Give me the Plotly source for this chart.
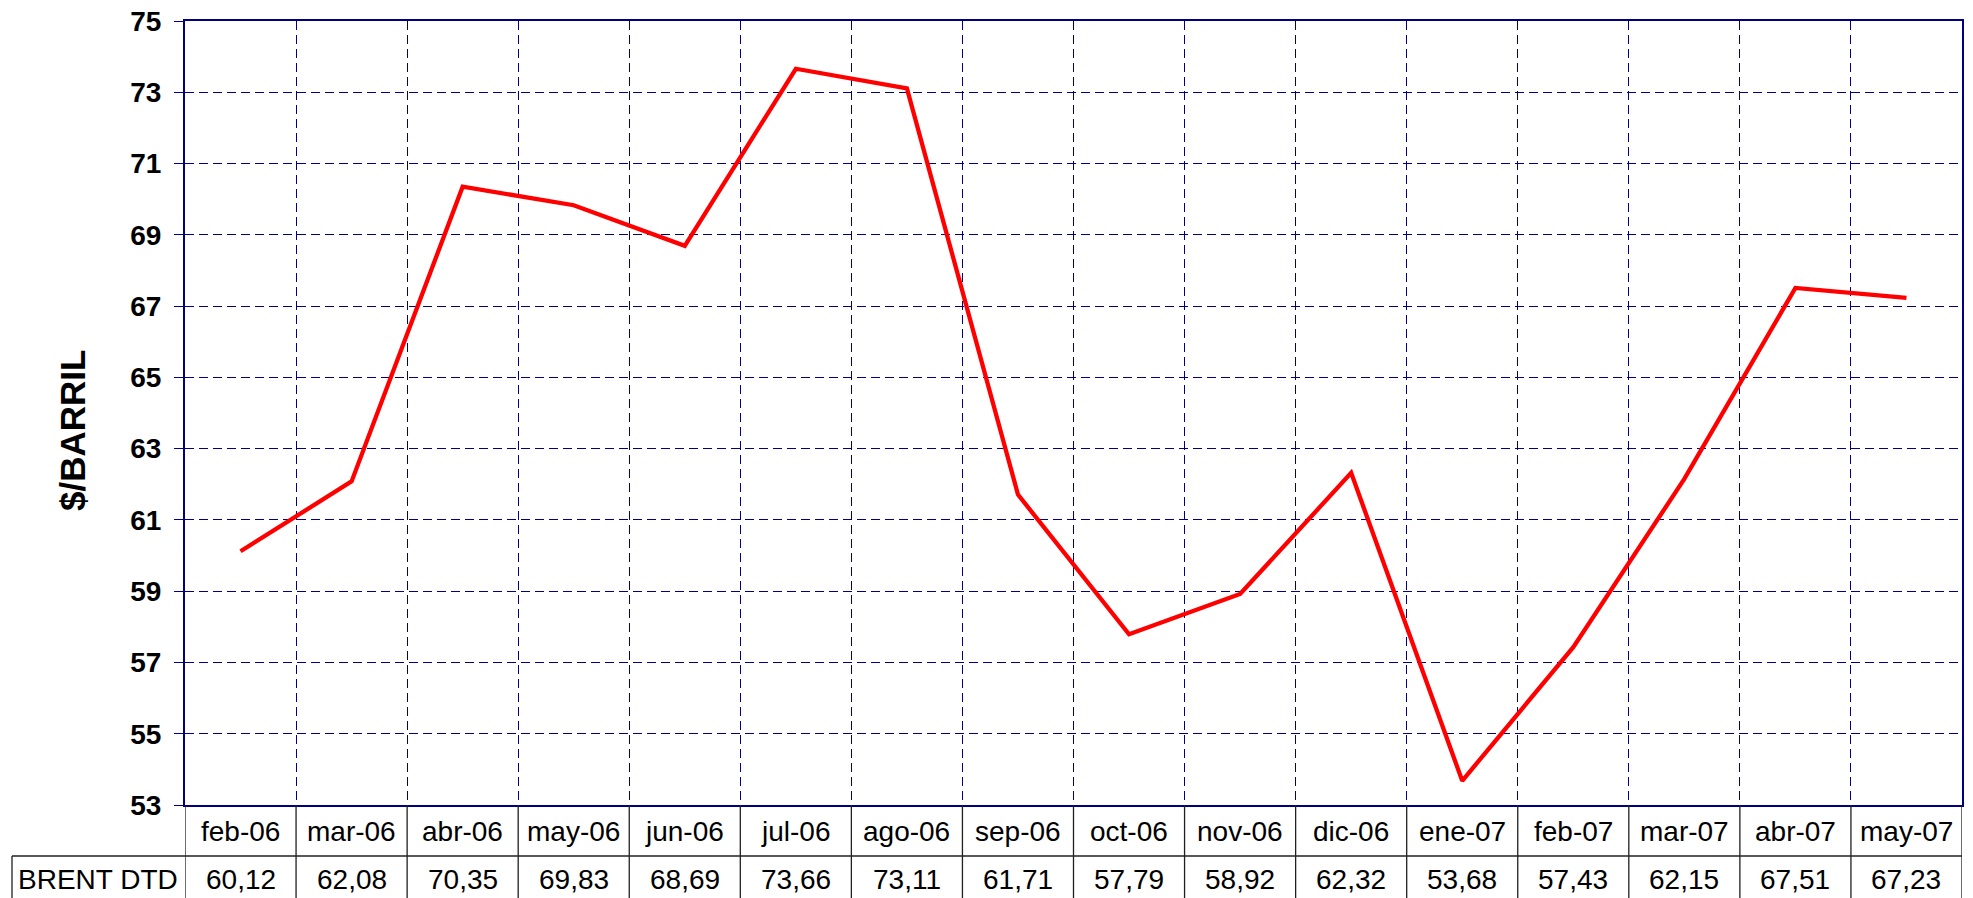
import plotly.graph_objects as go

months = ["feb-06", "mar-06", "abr-06", "may-06", "jun-06", "jul-06", "ago-06", "sep-06",
          "oct-06", "nov-06", "dic-06", "ene-07", "feb-07", "mar-07", "abr-07", "may-07"]
brent = [60.12, 62.08, 70.35, 69.83, 68.69, 73.66, 73.11, 61.71,
         57.79, 58.92, 62.32, 53.68, 57.43, 62.15, 67.51, 67.23]
series_name = "BRENT DTD"
y_ticks = [53, 55, 57, 59, 61, 63, 65, 67, 69, 71, 73, 75]

# body margin removed via post_script, so the figure fills the window
W, H = 1973, 898
PL, PR, PT, PB = 185, 1962, 21, 805  # plot area in window pixels
ML, MR, MT, MB = PL, W - PR, PT, H - PB
PW, PH = PR - PL, PB - PT

def py(pix):  # pixel y -> paper y
    return (PB - pix) / PH

def px(pix):  # pixel x -> paper x
    return (pix - PL) / PW

n = len(months)
xs = list(range(n))
boundaries = [i + 0.5 for i in range(n - 1)]

fig = go.Figure()
fig.add_trace(go.Scatter(x=xs, y=brent, mode="lines",
                         line=dict(color="#ff0000", width=4.3), name=series_name,
                         showlegend=False, hoverinfo="skip"))

navy = "#000080"
fig.update_xaxes(range=[-0.5, n - 0.5], tickvals=boundaries, showticklabels=False,
                 ticks="", showgrid=True, gridcolor=navy, gridwidth=1, griddash="9px,5px",
                 zeroline=False, showline=True, linecolor=navy, linewidth=2, mirror=True)
fig.update_yaxes(range=[y_ticks[0], y_ticks[-1]], tickvals=y_ticks,
                 ticks="outside", ticklen=9, tickcolor=navy, tickwidth=1,
                 ticklabeloverflow="allow", ticklabelstandoff=7,
                 tickfont=dict(family="Liberation Sans, Arial", size=28, color="black", weight="bold"),
                 showgrid=True, gridcolor=navy, gridwidth=1, griddash="9px,5px",
                 zeroline=False, showline=True, linecolor=navy, linewidth=2, mirror=True)

shapes = []
annotations = []
line_col = "#202020"
row1_top, row_div, row2_bot = PB, 856, H + 4
for b in [-0.5] + boundaries + [n - 0.5]:
    shapes.append(dict(type="line", xref="x", yref="paper", x0=b, x1=b,
                       y0=py(row1_top), y1=py(row2_bot), line=dict(color=line_col, width=1.3)))
shapes.append(dict(type="line", xref="paper", yref="paper", x0=px(12), x1=1,
                   y0=py(row_div), y1=py(row_div), line=dict(color=line_col, width=1.3)))
shapes.append(dict(type="line", xref="paper", yref="paper", x0=px(12), x1=px(12),
                   y0=py(row_div), y1=py(row2_bot), line=dict(color=line_col, width=1.3)))

tfont = dict(family="Liberation Sans, Arial", size=28, color="black")
for i, (m, v) in enumerate(zip(months, brent)):
    annotations.append(dict(x=i, y=py(831), xref="x", yref="paper", text=m,
                            showarrow=False, font=tfont, xanchor="center", yanchor="middle"))
    annotations.append(dict(x=i, y=py(879), xref="x", yref="paper",
                            text=f"{v:.2f}".replace(".", ","),
                            showarrow=False, font=tfont, xanchor="center", yanchor="middle"))
annotations.append(dict(x=px(98), y=py(879), xref="paper", yref="paper", text=series_name,
                        showarrow=False, font=tfont, xanchor="center", yanchor="middle"))
annotations.append(dict(x=px(72), y=py(431), xref="paper", yref="paper", text="$/BARRIL",
                        textangle=-90, showarrow=False,
                        font=dict(family="Liberation Sans, Arial", size=35, color="black", weight="bold"),
                        xanchor="center", yanchor="middle"))

fig.update_layout(width=W, height=H, margin=dict(l=ML, r=MR, t=MT, b=MB, autoexpand=False),
                  plot_bgcolor="white", paper_bgcolor="white",
                  shapes=shapes, annotations=annotations)

fig.write_html("out.html", config={"displayModeBar": False, "staticPlot": True},
               post_script="document.body.style.margin='0';document.body.style.overflow='hidden';")
